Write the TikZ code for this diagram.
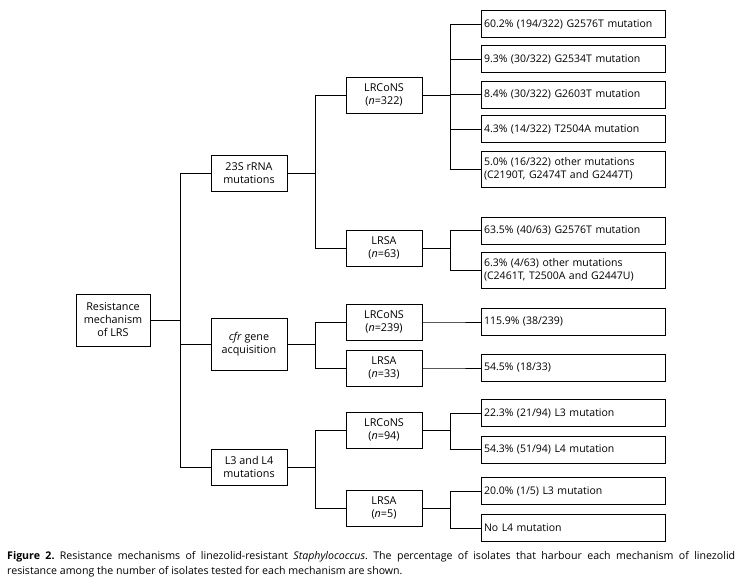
\documentclass[tikz,border=0pt]{standalone}
\usepackage{fontspec}
\setmainfont{Open Sans}
\usetikzlibrary{positioning}
\frenchspacing
\tikzset{
  link/.style={line width=0.8pt},
  box/.style={draw, line width=0.8pt, minimum width=76pt, minimum height=36pt,
    align=center, inner sep=2pt, font=\fontsize{10.8}{13}\selectfont},
  leaf/.style={draw, line width=0.8pt, minimum height=27pt, text width=178pt,
    align=left, inner xsep=3pt, inner ysep=2pt, font=\fontsize{10.5}{13}\selectfont},
}
\begin{document}
\begin{tikzpicture}[x=1pt,y=-1pt]
  \useasboundingbox (0,0) rectangle (746,585);
  % first and second level
  \node[box, minimum width=74pt, minimum height=52pt] (root) at (113,320) {Resistance\\mechanism\\of LRS};
  \node[box] (mut) at (249,173) {23S rRNA\\mutations};
  \node[box, minimum height=52pt] (cfr) at (249,344) {\textit{cfr} gene\\acquisition};
  \node[box] (loop) at (249,467) {L3 and L4\\mutations};
  % species
  \node[box] (cons1) at (384,95) {LRCoNS\\(\textit{n}=322)};
  \node[box] (sa1) at (384,248) {LRSA\\(\textit{n}=63)};
  \node[box] (cons2) at (384,322) {LRCoNS\\(\textit{n}=239)};
  \node[box] (sa2) at (384,368) {LRSA\\(\textit{n}=33)};
  \node[box] (cons3) at (384,430) {LRCoNS\\(\textit{n}=94)};
  \node[box] (sa3) at (384,508) {LRSA\\(\textit{n}=5)};
  % results
  \node[leaf] (m1) at (573,24) {60.2\% (194/322) G2576T mutation};
  \node[leaf] (m2) at (573,59) {9.3\% (30/322) G2534T mutation};
  \node[leaf] (m3) at (573,94.5) {8.4\% (30/322) G2603T mutation};
  \node[leaf] (m4) at (573,129) {4.3\% (14/322) T2504A mutation};
  \node[leaf, minimum height=36pt] (m5) at (573,169) {5.0\% (16/322) other mutations\\(C2190T, G2474T and G2447T)};
  \node[leaf] (s1) at (573,230.5) {63.5\% (40/63) G2576T mutation};
  \node[leaf, minimum height=36pt] (s2) at (573,270) {6.3\% (4/63) other mutations\\(C2461T, T2500A and G2447U)};
  \node[leaf] (c1) at (573,322) {115.9\% (38/239)};
  \node[leaf] (c2) at (573,368) {54.5\% (18/33)};
  \node[leaf] (l1) at (573,413) {22.3\% (21/94) L3 mutation};
  \node[leaf] (l2) at (573,449.5) {54.3\% (51/94) L4 mutation};
  \node[leaf] (l3) at (573,491) {20.0\% (1/5) L3 mutation};
  \node[leaf] (l4) at (573,528) {No L4 mutation};
  % elbow connectors
  \foreach \p/\c in {root/mut, root/cfr, root/loop,
      mut/cons1, mut/sa1, cfr/cons2, cfr/sa2, loop/cons3, loop/sa3,
      cons1/m1, cons1/m2, cons1/m3, cons1/m4, cons1/m5, sa1/s1, sa1/s2,
      cons2/c1, sa2/c2, cons3/l1, cons3/l2, sa3/l3, sa3/l4}
    \draw[link] (\p.east) -| ([xshift=-30pt]\c.west) -- (\c.west);
  % caption
  \node[anchor=north west, text width=728pt, align=justify, inner sep=0pt,
    font=\fontsize{10.6}{15}\selectfont] (cap) at (7,551)
    {\textbf{Figure 2.} Resistance mechanisms of linezolid-resistant \textit{Staphylococcus}. The percentage of isolates that harbour each mechanism of linezolid\linebreak
     resistance among the number of isolates tested for each mechanism are shown.};
\end{tikzpicture}
\end{document}
